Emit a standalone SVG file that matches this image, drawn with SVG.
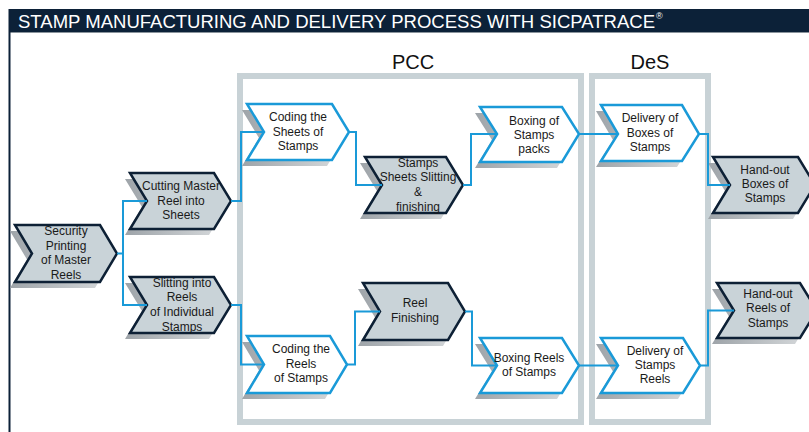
<svg xmlns="http://www.w3.org/2000/svg" width="809" height="432" viewBox="0 0 809 432">
<defs>
<linearGradient id="sh" x1="0" y1="0" x2="1" y2="0">
<stop offset="0" stop-color="#9ea4a9"/>
<stop offset="1" stop-color="#d9dcde"/>
</linearGradient>
<style>
.frame{fill:none;stroke:#c8d2d6;stroke-width:6}
.shadow{fill:url(#sh)}
.grey{fill:#c9d3d8;stroke:#0d2035;stroke-width:2.5;stroke-linejoin:miter}
.white{fill:#ffffff;stroke:#1a9ad8;stroke-width:2.5;stroke-linejoin:miter}
.lbl{font-family:"Liberation Sans",Arial,sans-serif;font-size:12px;fill:#1a1a1a;text-anchor:middle}
.head{font-family:"Liberation Sans",Arial,sans-serif;font-size:20px;fill:#111;text-anchor:middle}
.conn{fill:none;stroke:#1a9ad8;stroke-width:2}
</style>
</defs>
<rect x="0" y="0" width="809" height="432" fill="#ffffff"/>
<g id="title">
<rect x="9" y="9" width="800" height="23" fill="#0c2138"/>
<line x1="9" y1="32.5" x2="809" y2="32.5" stroke="#8a949c" stroke-width="1"/>
<line x1="9.5" y1="9" x2="9.5" y2="432" stroke="#0c2138" stroke-width="2"/>
<text x="18" y="28" font-family="'Liberation Sans',Arial,sans-serif" font-size="18" fill="#ffffff" textLength="637" lengthAdjust="spacingAndGlyphs">STAMP MANUFACTURING AND DELIVERY PROCESS WITH SICPATRACE</text>
<text x="656" y="19" font-family="'Liberation Sans',Arial,sans-serif" font-size="9" fill="#ffffff">®</text>
</g>
<g id="pcc">
<rect class="frame" x="240" y="76" width="341" height="346"/>
<text class="head" x="413" y="69">PCC</text>
</g>
<g id="des">
<rect class="frame" x="592" y="76" width="116" height="346"/>
<text class="head" x="650" y="69">DeS</text>
</g>

<g id="n-security">
<path class="shadow" transform="translate(-5,6)" d="M15,225 H100 L117,253.5 L100,282 H15 L32,253.5 Z"/>
<path class="grey" d="M15,225 H100 L117,253.5 L100,282 H15 L32,253.5 Z"/>
<text class="lbl" x="66" y="235">Security</text>
<text class="lbl" x="66" y="250">Printing</text>
<text class="lbl" x="66" y="264">of Master</text>
<text class="lbl" x="66" y="279">Reels</text>
</g>
<g id="n-cutting">
<path class="shadow" transform="translate(-5,6)" d="M130,173 H214 L231,201 L214,229 H130 L147,201 Z"/>
<path class="grey" d="M130,173 H214 L231,201 L214,229 H130 L147,201 Z"/>
<text class="lbl" x="181" y="190">Cutting Master</text>
<text class="lbl" x="181" y="205">Reel into</text>
<text class="lbl" x="181" y="219">Sheets</text>
</g>
<g id="n-slitting">
<path class="shadow" transform="translate(-5,6)" d="M130,277 H214 L231,305 L214,333 H130 L147,305 Z"/>
<path class="grey" d="M130,277 H214 L231,305 L214,333 H130 L147,305 Z"/>
<text class="lbl" x="182" y="287">Slitting into</text>
<text class="lbl" x="182" y="301">Reels</text>
<text class="lbl" x="182" y="316">of Individual</text>
<text class="lbl" x="182" y="331">Stamps</text>
</g>
<g id="n-coding-sheets">
<path class="shadow" transform="translate(-5,6)" d="M247,104 H332 L349,132 L332,160 H247 L264,132 Z"/>
<path class="white" d="M247,104 H332 L349,132 L332,160 H247 L264,132 Z"/>
<text class="lbl" x="298" y="121">Coding the</text>
<text class="lbl" x="298" y="136">Sheets of</text>
<text class="lbl" x="298" y="150">Stamps</text>
</g>
<g id="n-sheets-slitting">
<path class="shadow" transform="translate(-5,6)" d="M365,157 H446 L463,185 L446,213 H365 L382,185 Z"/>
<path class="grey" d="M365,157 H446 L463,185 L446,213 H365 L382,185 Z"/>
<text class="lbl" x="418" y="167">Stamps</text>
<text class="lbl" x="418" y="181">Sheets Slitting</text>
<text class="lbl" x="418" y="196">&amp;</text>
<text class="lbl" x="418" y="211">finishing</text>
</g>
<g id="n-boxing-packs">
<path class="shadow" transform="translate(-5,6)" d="M480,107 H562 L579,134 L562,162 H480 L497,134 Z"/>
<path class="white" d="M480,107 H562 L579,134 L562,162 H480 L497,134 Z"/>
<text class="lbl" x="534" y="125">Boxing of</text>
<text class="lbl" x="534" y="139">Stamps</text>
<text class="lbl" x="534" y="153">packs</text>
</g>
<g id="n-delivery-boxes">
<path class="shadow" transform="translate(-5,6)" d="M601,105 H682 L699,134 L682,161 H601 L618,134 Z"/>
<path class="white" d="M601,105 H682 L699,134 L682,161 H601 L618,134 Z"/>
<text class="lbl" x="650" y="122">Delivery of</text>
<text class="lbl" x="650" y="137">Boxes of</text>
<text class="lbl" x="650" y="151">Stamps</text>
</g>
<g id="n-handout-boxes">
<path class="shadow" transform="translate(-5,6)" d="M713,157 H798 L815,185 L798,213 H713 L730,185 Z"/>
<path class="grey" d="M713,157 H798 L815,185 L798,213 H713 L730,185 Z"/>
<text class="lbl" x="765" y="174">Hand-out</text>
<text class="lbl" x="765" y="188">Boxes of</text>
<text class="lbl" x="765" y="202">Stamps</text>
</g>
<g id="n-coding-reels">
<path class="shadow" transform="translate(-5,6)" d="M247,336 H330 L347,364.5 L330,393 H247 L264,364.5 Z"/>
<path class="white" d="M247,336 H330 L347,364.5 L330,393 H247 L264,364.5 Z"/>
<text class="lbl" x="301" y="353">Coding the</text>
<text class="lbl" x="301" y="368">Reels</text>
<text class="lbl" x="301" y="382">of Stamps</text>
</g>
<g id="n-reel-finishing">
<path class="shadow" transform="translate(-5,6)" d="M363,283 H448 L465,311.5 L448,340 H363 L380,311.5 Z"/>
<path class="grey" d="M363,283 H448 L465,311.5 L448,340 H363 L380,311.5 Z"/>
<text class="lbl" x="415" y="307">Reel</text>
<text class="lbl" x="415" y="322">Finishing</text>
</g>
<g id="n-boxing-reels">
<path class="shadow" transform="translate(-5,6)" d="M480,338 H562 L579,365.5 L562,393 H480 L497,365.5 Z"/>
<path class="white" d="M480,338 H562 L579,365.5 L562,393 H480 L497,365.5 Z"/>
<text class="lbl" x="529" y="362">Boxing Reels</text>
<text class="lbl" x="529" y="376">of Stamps</text>
</g>
<g id="n-delivery-reels">
<path class="shadow" transform="translate(-5,6)" d="M601,338 H683 L700,365.5 L683,393 H601 L618,365.5 Z"/>
<path class="white" d="M601,338 H683 L700,365.5 L683,393 H601 L618,365.5 Z"/>
<text class="lbl" x="655" y="355">Delivery of</text>
<text class="lbl" x="655" y="369">Stamps</text>
<text class="lbl" x="655" y="383">Reels</text>
</g>
<g id="n-handout-reels">
<path class="shadow" transform="translate(-5,6)" d="M717,283 H800 L817,310.5 L800,338 H717 L734,310.5 Z"/>
<path class="grey" d="M717,283 H800 L817,310.5 L800,338 H717 L734,310.5 Z"/>
<text class="lbl" x="768" y="298">Hand-out</text>
<text class="lbl" x="768" y="312">Reels of</text>
<text class="lbl" x="768" y="327">Stamps</text>
</g>

<g id="connectors" class="conn">
<path d="M117,253.5 H123 M147,201 H123 V305 H147"/>
<path d="M231,201 H241 V132 H264"/>
<path d="M231,305 H241 V364.5 H264"/>
<path d="M349,132 H356 V185 H382"/>
<path d="M463,185 H471 V134 H497"/>
<path d="M579,134 H618"/>
<path d="M699,134 H708 V185 H730"/>
<path d="M347,364.5 H355 V311.5 H380"/>
<path d="M465,311.5 H472 V365.5 H497"/>
<path d="M579,365.5 H618"/>
<path d="M700,365.5 H708 V310.5 H734"/>
</g>
</svg>
